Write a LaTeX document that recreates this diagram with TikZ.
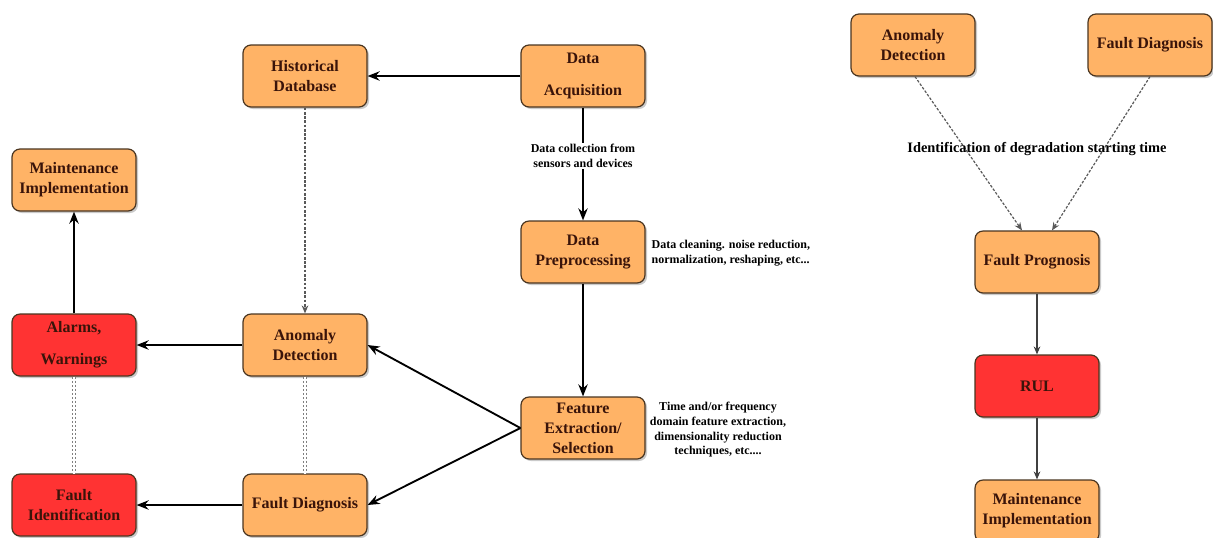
\documentclass[tikz,border=0pt]{standalone}
\usepackage{fontspec}
\setmainfont{Liberation Serif}
\usetikzlibrary{arrows.meta,shadows}
\definecolor{boxor}{HTML}{FFB366}
\definecolor{boxred}{HTML}{FF3333}
\definecolor{boxline}{HTML}{4A3520}
\definecolor{boxtext}{HTML}{3A140A}
\begin{document}
\begin{tikzpicture}[x=0.75pt,y=-0.75pt,
  box/.style={draw=boxline, line width=0.9pt, rounded corners=6pt,
    minimum width=93pt, minimum height=46.5pt, align=center, inner sep=1pt,
    font=\fontsize{12}{15}\selectfont\bfseries, text=boxtext,
    drop shadow={shadow xshift=1.5pt, shadow yshift=-1.5pt, opacity=0.35, fill=black!60}},
  obox/.style={box, fill=boxor},
  rbox/.style={box, fill=boxred},
  flow/.style={-{Stealth[length=9pt,width=7pt]}, line width=1.4pt, black},
  thinflow/.style={-{Stealth[length=6pt,width=5pt]}, line width=0.8pt, black!75},
  dashflow/.style={-{Stealth[length=6pt,width=5pt]}, line width=0.9pt, black!65, dash pattern=on 2pt off 1.2pt},
  dbl/.style={draw=black!50, line width=0.8pt, double=white, double distance=1.6pt, dash pattern=on 2pt off 1pt},
  lbl/.style={font=\fontsize{9}{11}\selectfont\bfseries, text=black, align=center, inner sep=1pt}
]
\useasboundingbox (0,0) rectangle (1213,537);

% left diagram nodes
\node[obox] (hist) at (305,76) {Historical\\Database};
\node[obox] (acq) at (583,76) {Data\\[9pt]Acquisition};
\node[obox] (maint) at (74,180) {Maintenance\\Implementation};
\node[obox] (prep) at (583,252) {Data\\Preprocessing};
\node[rbox] (alarm) at (74,345) {Alarms,\\[9pt]Warnings};
\node[obox] (anom) at (305,345) {Anomaly\\Detection};
\node[obox] (feat) at (583,428) {Feature\\Extraction/\\Selection};
\node[rbox] (fid) at (74,505) {Fault\\Identification};
\node[obox] (fdiag) at (305,505) {Fault Diagnosis};

% left diagram connectors
\draw[flow] (acq) -- (hist);
\draw[flow] (acq) -- node[lbl, fill=white, pos=0.43] (collect) {Data collection from\\sensors and devices} (prep);
\draw[flow] (prep) -- (feat);
\draw[flow] (feat.west) -- (anom.east);
\draw[flow] (feat.west) -- (fdiag.east);
\draw[flow] (anom) -- (alarm);
\draw[flow] (fdiag) -- (fid);
\draw[flow] (alarm) -- (maint);
\draw[dashflow] (hist) -- (anom);
\draw[dbl] (anom) -- (fdiag);
\draw[dbl] (alarm) -- (fid);

\node[lbl, anchor=west, align=left] (clean) at (650,253) {Data cleaning. noise reduction,\\normalization, reshaping, etc...};
\node[lbl] (timefreq) at (718,430) {Time and/or frequency\\domain feature extraction,\\dimensionality reduction\\techniques, etc....};

% right diagram
\node[obox] (ranom) at (913,45) {Anomaly\\Detection};
\node[obox] (rfdiag) at (1150,45) {Fault Diagnosis};
\node[obox] (prog) at (1037,262) {Fault Prognosis};
\node[rbox] (rul) at (1037,386) {RUL};
\node[obox] (rmaint) at (1037,511) {Maintenance\\Implementation};

\draw[dashflow] (ranom.south) ++(2,0) coordinate (ra) -- ([xshift=-11.25pt]prog.north);
\draw[dashflow] (rfdiag.south) coordinate (rf) -- ([xshift=11.25pt]prog.north);
\node[lbl, font=\fontsize{10.8}{13}\selectfont\bfseries] (ident) at (1037,149) {Identification of degradation starting time};
\draw[thinflow] (prog) -- (rul);
\draw[thinflow] (rul) -- (rmaint);
\end{tikzpicture}
\end{document}
